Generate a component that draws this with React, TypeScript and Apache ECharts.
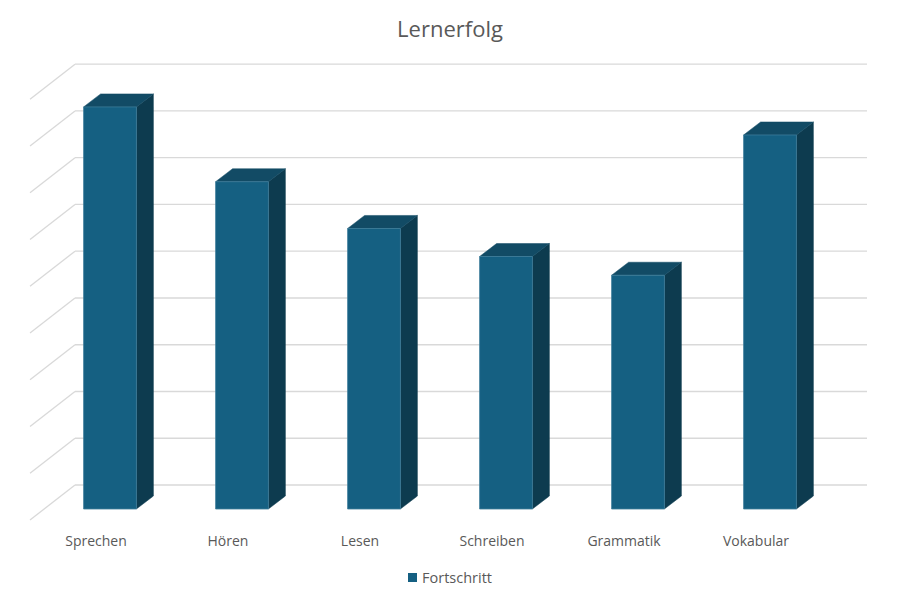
import React, { useEffect, useRef } from "react";
import * as echarts from "echarts";

const categories = ["Sprechen", "Hören", "Lesen", "Schreiben", "Grammatik", "Vokabular"];
const seriesName = "Fortschritt";
const values = [8.6, 7.0, 6.0, 5.4, 5.0, 8.0];
const gridTicks = [0, 1, 2, 3, 4, 5, 6, 7, 8, 9];
const yMax = 9;

// 3D depth offsets (pixels)
const WALL_DX = 31;
const WALL_DY = -24;
const FRONT_DX = -14;
const FRONT_DY = 11;
const BAR_DX = 17;
const BAR_DY = -13;

const FRONT_COLOR = "#156082";
const SIDE_COLOR = "#0d3b4f";
const TOP_COLOR = "#124b65";

export default function App() {
  const ref = useRef<HTMLDivElement>(null);
  useEffect(() => {
    if (!ref.current) return;
    const chart = echarts.init(ref.current, undefined, { renderer: "svg" });
    const option: any = {
      animation: false,
      backgroundColor: "#ffffff",
      title: {
        text: "Lernerfolg",
        left: "center",
        top: 12,
        textStyle: { fontFamily: "Open Sans", fontSize: 22, fontWeight: "normal", color: "#595959" },
      },
      legend: {
        data: [seriesName],
        left: "center",
        top: 565,
        icon: "rect",
        itemWidth: 9,
        itemHeight: 9,
        itemGap: 4,
        textStyle: { fontFamily: "Open Sans", fontSize: 14.5, color: "#595959" },
      },
      grid: [
        { left: 44, right: 64, top: 88.2, bottom: 91 },
        { left: 30, right: 78, top: 88.2, bottom: 91 },
      ],
      xAxis: [
        {
          type: "category",
          data: categories,
          gridIndex: 0,
          axisLine: { show: false },
          axisTick: { show: false },
          axisLabel: { show: false },
        },
        {
          type: "category",
          data: categories,
          gridIndex: 1,
          axisLine: { show: false },
          axisTick: { show: false },
          axisLabel: {
            margin: 24,
            fontFamily: "Open Sans",
            fontSize: 14,
            color: "#595959",
          },
        },
      ],
      yAxis: [
        { type: "value", gridIndex: 0, min: 0, max: yMax, interval: 1, show: false, splitLine: { show: false } },
        { type: "value", gridIndex: 1, min: 0, max: yMax, interval: 1, show: false, splitLine: { show: false } },
      ],
      series: [
        {
          type: "custom",
          name: "grid",
          xAxisIndex: 0,
          yAxisIndex: 0,
          clip: false,
          silent: true,
          z: 1,
          data: gridTicks.map((v) => [0, v]),
          renderItem: (params: any, api: any) => {
            const cs = params.coordSys;
            const y = api.coord([0, api.value(1)])[1];
            const style = { stroke: "#d9d9d9", lineWidth: 1.3 };
            return {
              type: "group",
              children: [
                {
                  type: "line",
                  shape: { x1: cs.x + WALL_DX, y1: y + WALL_DY, x2: cs.x + cs.width + WALL_DX, y2: y + WALL_DY },
                  style,
                },
                {
                  type: "line",
                  shape: { x1: cs.x + WALL_DX, y1: y + WALL_DY, x2: cs.x + FRONT_DX, y2: y + FRONT_DY },
                  style,
                },
              ],
            };
          },
        },
        {
          type: "custom",
          name: seriesName,
          xAxisIndex: 0,
          yAxisIndex: 0,
          clip: false,
          z: 2,
          itemStyle: { color: FRONT_COLOR },
          data: values.map((v, i) => [i, v]),
          renderItem: (params: any, api: any) => {
            const i = api.value(0);
            const v = api.value(1);
            const top = api.coord([i, v]);
            const bottom = api.coord([i, 0]);
            const band = api.size([1, 0])[0];
            const w = band * 0.4;
            const x0 = top[0] - w / 2;
            const x1 = x0 + w;
            const yt = top[1];
            const yb = bottom[1];
            return {
              type: "group",
              children: [
                {
                  type: "polygon",
                  shape: {
                    points: [
                      [x1, yt],
                      [x1 + BAR_DX, yt + BAR_DY],
                      [x1 + BAR_DX, yb + BAR_DY],
                      [x1, yb],
                    ],
                  },
                  style: { fill: SIDE_COLOR, stroke: SIDE_COLOR, lineWidth: 0.5 },
                },
                {
                  type: "polygon",
                  shape: {
                    points: [
                      [x0, yt],
                      [x0 + BAR_DX, yt + BAR_DY],
                      [x1 + BAR_DX, yt + BAR_DY],
                      [x1, yt],
                    ],
                  },
                  style: { fill: TOP_COLOR, stroke: TOP_COLOR, lineWidth: 0.5 },
                },
                {
                  type: "rect",
                  shape: { x: x0, y: yt, width: w, height: yb - yt },
                  style: { fill: FRONT_COLOR, stroke: "#3f7e9b", lineWidth: 0.8 },
                },
              ],
            };
          },
        },
      ],
    };
    chart.setOption(option);
    return () => chart.dispose();
  }, []);
  return (
    <div
      ref={ref}
      style={{ position: "fixed", left: 0, top: 0, width: 900, height: 600, background: "#fff" }}
    />
  );
}
